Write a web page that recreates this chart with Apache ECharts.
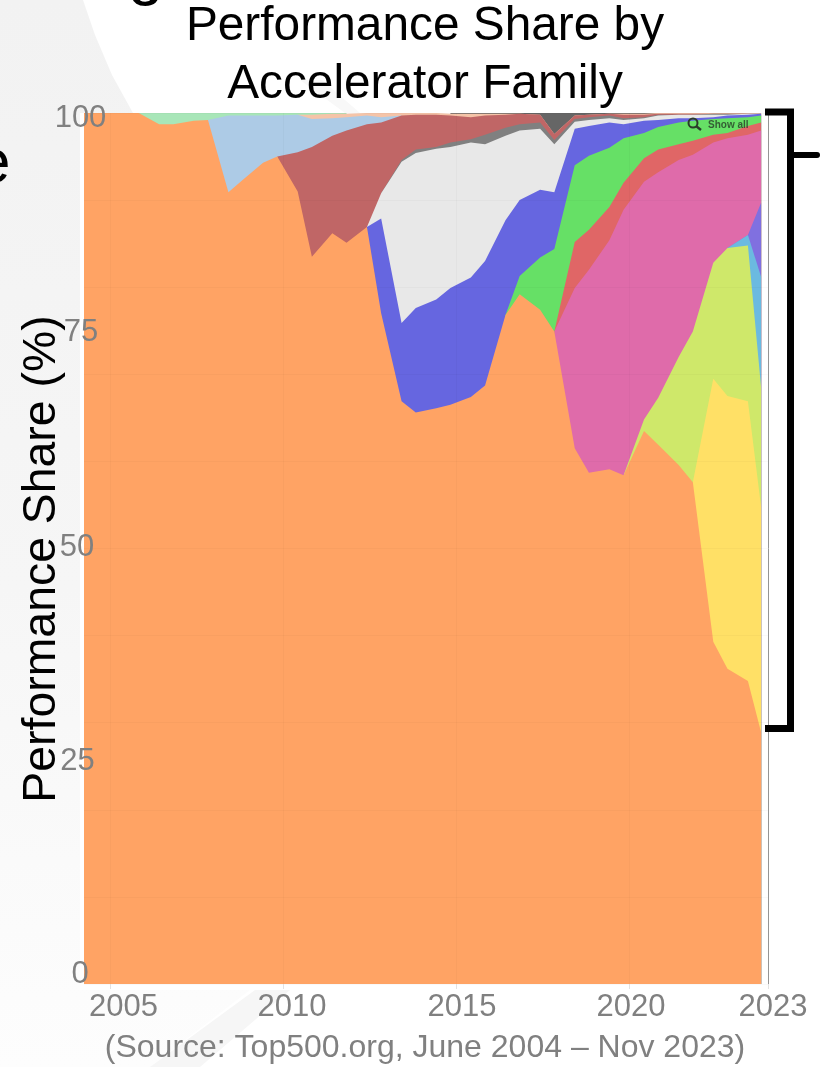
<!DOCTYPE html>
<html>
<head>
<meta charset="utf-8">
<title>Performance Share by Accelerator Family</title>
<style type="text/css">
html,body{margin:0; padding:0; background:#fff}
#chart{width:820px; height:1067px}
</style>
<script src="https://cdn.jsdelivr.net/npm/echarts@6/dist/echarts.min.js"></script>
</head>
<body>
<div id="chart"></div>
<script type="text/javascript">
// list dates as decimal years, June and November of each Top500 list
var dates = [2004.25,2004.83,2005.42,2005.83,2006.42,2006.83,2007.42,2007.83,2008.42,2008.83,
    2009.42,2009.83,2010.42,2010.83,2011.42,2011.83,2012.42,2012.83,2013.42,2013.83,
    2014.42,2014.83,2015.42,2015.83,2016.42,2016.83,2017.42,2017.83,2018.42,2018.83,
    2019.42,2019.83,2020.42,2020.83,2021.42,2021.83,2022.42,2022.83,2023.42,2023.8];

// upper edge of each family in the stack, percent
var none = function (n) { return new Array(n).fill(null); };
var orange = [100,100,100,100,98.7,98.7,99.1,99.2,90.9,92.3,94.3,95.0,91.0,83.5,86.2,85.1,86.9,77.0,66.9,65.6,
    66.1,66.5,67.4,68.7,76.8,79.2,77.4,74.9,61.5,58.7,59.1,58.4,63.5,61.9,59.6,57.6,39.3,36.2,34.8,28.9];
var yellow = none(35).concat([57.6,69.5,67.5,66.9,54.8]);
var lime = none(31).concat([58.4,64.8,67.3,72.0,74.9,82.8,84.5,84.8,68.5]);
var lightBlue = none(37).concat([84.5,86.0,81.2]);
var purple = none(37).concat([84.5,86.0,89.7]);
var pink = none(27).concat([74.9,79.9,82.0,85.4,88.9,92.1,93.2,94.6,95.2,96.6,97.1,97.5,98.0]);
var red = none(27).concat([74.9,85.2,86.6,89.2,92.0,94.8,95.8,96.4,96.8,97.5,97.7,98.5,98.9]);
var green = none(24).concat([76.8,81.3,83.4,84.4,94.0,95.1,96.0,97.1,97.7,98.4,98.9,99.1,99.3,99.4,99.5,99.7]);
var indigo = none(16).concat([86.9,87.9,75.9,77.6,78.6,79.9,81.1,83.0,87.7,90.0,91.2,90.9,98.2,98.5,98.9,98.7,
    99.1,99.2,99.4,99.4,99.5,99.7,99.8,99.9]);
var lightGray = none(16).concat([86.9,90.8,94.4,95.4,95.9,96.1,96.6,96.4,97.4,98.0,98.2,96.4,99.0,99.2,99.4,99.2,
    99.4,99.7,99.8,99.8,99.8,99.8,99.9,99.9]);
var midGray = none(17).concat([90.8,94.6,95.8,96.1,96.6,97.0,97.5,98.3,98.7,98.9,96.9,99.3,99.5,99.7,99.4,
    99.5,99.8,99.8,99.8,99.9,99.9,99.9,99.9]);
var brown = none(11).concat([95.0,95.5,96.1,97.4,98.0,98.7,98.9,99.7,99.8,99.8,99.7,99.5,99.7,99.8,99.9,99.8,97.6,
    99.7,99.8,99.9,99.8,99.8,99.9,99.9,99.9,99.9,99.9,99.9,99.9]);
var sky = none(7).concat([99.2,99.7,99.7,99.7,99.7,99.8,99.3,99.4,99.5,99.7,99.5,99.7]).concat(none(21));
var peach = none(12).concat([99.8,99.8,99.9,99.9,100,100,100,100,100,99.9,99.9,99.9,99.9,99.9,99.8,97.6,
    99.7,99.8,99.9,99.9,99.9,100,100,100,100,100,100,100]);
var darkGray = none(21).concat([100,100,100,100,100,100,100,100,100,100,100,100,100,100,100,100,100,100,100]);
var mint = none(3).concat([100,100,100,100,100,100,100,100,100,100,100,100,100]).concat(none(24));

var xTickLabels = ['2005','2010','2015','2020','2023'];
var yTickLabels = ['0','25','50','75','100'];
var xTickValues = [2005,2010,2015,2020,2024];

// painted top of the stack first, every lower family covers the rest
var bands = [
    ['mint', mint, '#a8e6b8'],
    ['dark gray', darkGray, '#666666'],
    ['peach', peach, '#f5c4a8'],
    ['sky', sky, '#adcbe6'],
    ['brown', brown, '#c06666'],
    ['mid gray', midGray, '#808080'],
    ['light gray', lightGray, '#e8e8e8'],
    ['indigo', indigo, '#6666e0'],
    ['green', green, '#66e066'],
    ['red', red, '#e06666'],
    ['pink', pink, '#df6baa'],
    ['purple', purple, '#8070e0'],
    ['light blue', lightBlue, '#6bbae0'],
    ['lime', lime, '#cfe86a'],
    ['yellow', yellow, '#ffe066'],
    ['orange', orange, '#ffa364']
];

var series = bands.map(function (b) {
    return {
        name: b[0],
        type: 'line',
        symbol: 'none',
        lineStyle: {width: 0},
        areaStyle: {color: b[2], opacity: 1},
        data: dates.map(function (d, i) { return [d, b[1][i]]; })
    };
});

var font = '"Liberation Sans", Arial, sans-serif';
var grayText = '#808080';

// tick labels sit where the slide had them, not on the ticks
var xLabelPos = [123.5, 292, 462, 631, 773];
var yLabelPos = [[80,974],[77.5,761],[77,547],[81,332],[80.5,118]];

var elements = [
    // slide background behind the chart
    {type: 'polygon', z: -3, shape: {points: [[0,0],[83,0],[95,35],[112,75],[133,113],[80,113],[80,990],[250,990],[150,1067],[0,1067]]},
        style: {fill: {type: 'linear', x: 0, y: 0, x2: 0, y2: 1, colorStops: [{offset: 0, color: '#f2f2f2'}, {offset: .55, color: '#f6f6f6'}, {offset: 1, color: '#fdfdfd'}]}}},
    {type: 'polygon', z: -3, shape: {points: [[255,990],[290,990],[200,1067],[150,1067]]}, style: {fill: '#f6f6f6'}},
    {type: 'polygon', z: -3, shape: {points: [[300,80],[322,80],[360,113],[345,113]]}, style: {fill: '#f8f8f8'}},
    // cut off letters of the slide heading
    {type: 'text', z: 50, style: {text: 'e', x: -24, y: 165, font: '62px ' + font, fill: '#000', verticalAlign: 'middle'}},
    {type: 'text', z: 50, style: {text: 'g', x: 128, y: -25, font: '64px ' + font, fill: '#000', verticalAlign: 'middle'}},
    {type: 'text', z: 50, x: 42, y: 559, rotation: Math.PI / 2, style: {text: 'Performance Share (%)', font: '46.4px ' + font, fill: '#000', align: 'center', verticalAlign: 'middle'}},
    {type: 'text', z: 50, style: {text: '(Source: Top500.org, June 2004 \u2013 Nov 2023)', x: 425, y: 1048.5, font: '32px ' + font, fill: grayText, align: 'center', verticalAlign: 'middle'}},
    // show all control
    {type: 'circle', z: 50, shape: {cx: 693, cy: 123, r: 4.5}, style: {fill: 'none', stroke: '#2b3b2b', lineWidth: 2}},
    {type: 'line', z: 50, shape: {x1: 696, y1: 126, x2: 701, y2: 130}, style: {stroke: '#2b3b2b', lineWidth: 2.5}},
    {type: 'text', z: 50, style: {text: 'Show all', x: 708, y: 125.5, font: 'bold 10px ' + font, fill: 'rgba(40,60,40,.8)', verticalAlign: 'middle'}},
    // bracket on the right
    {type: 'polyline', z: 50, shape: {points: [[765,112],[790.5,112],[790.5,728.5],[765,728.5]]}, style: {stroke: '#000', lineWidth: 7, fill: 'none'}},
    {type: 'line', z: 50, shape: {x1: 790, y1: 155, x2: 817, y2: 155}, style: {stroke: '#000', lineWidth: 6, lineCap: 'round'}},
    // plot panel
    {type: 'rect', z: -2, shape: {x: 80, y: 113, width: 688, height: 877}, style: {fill: '#fff'}}
];
xTickLabels.forEach(function (t, i) {
    elements.push({type: 'text', z: 50, style: {text: t, x: xLabelPos[i], y: 1007, font: '31px ' + font, fill: grayText, align: 'center', verticalAlign: 'middle'}});
});
yTickLabels.forEach(function (t, i) {
    elements.push({type: 'text', z: 50, style: {text: t, x: yLabelPos[i][0], y: yLabelPos[i][1], font: '31px ' + font, fill: grayText, align: 'center', verticalAlign: 'middle'}});
});

var chart = echarts.init(document.getElementById('chart'), null, {renderer: 'canvas'});
chart.setOption({
    animation: false,
    backgroundColor: 'transparent',
    title: {
        text: 'Performance Share by\nAccelerator Family',
        left: 420,
        top: -7,
        textAlign: 'center',
        textStyle: {fontFamily: font, fontSize: 47.8, fontWeight: 'normal', color: '#000', lineHeight: 58}
    },
    grid: {left: 84, right: 52, top: 113, bottom: 83},
    xAxis: {
        type: 'value',
        min: 2004.25,
        max: 2024,
        z: 5,
        axisLine: {show: false},
        axisLabel: {show: false, customValues: xTickValues},
        axisTick: {length: 5, lineStyle: {color: '#e2e2e2'}, customValues: xTickValues},
        splitLine: {show: true, lineStyle: {color: 'rgba(0,0,0,.025)'}}
    },
    yAxis: [
        {
            type: 'value',
            min: 0,
            max: 100,
            interval: 10,
            z: 5,
            axisLine: {show: false},
            axisTick: {show: false},
            axisLabel: {show: false},
            splitLine: {show: true, lineStyle: {color: 'rgba(0,0,0,.025)'}}
        },
        {
            type: 'value',
            min: 0,
            max: 100,
            position: 'right',
            axisLine: {show: true, lineStyle: {color: '#999', width: 1}},
            axisTick: {show: false},
            axisLabel: {show: false},
            splitLine: {show: false}
        }
    ],
    graphic: {elements: elements},
    series: series
});
</script>
</body>
</html>
